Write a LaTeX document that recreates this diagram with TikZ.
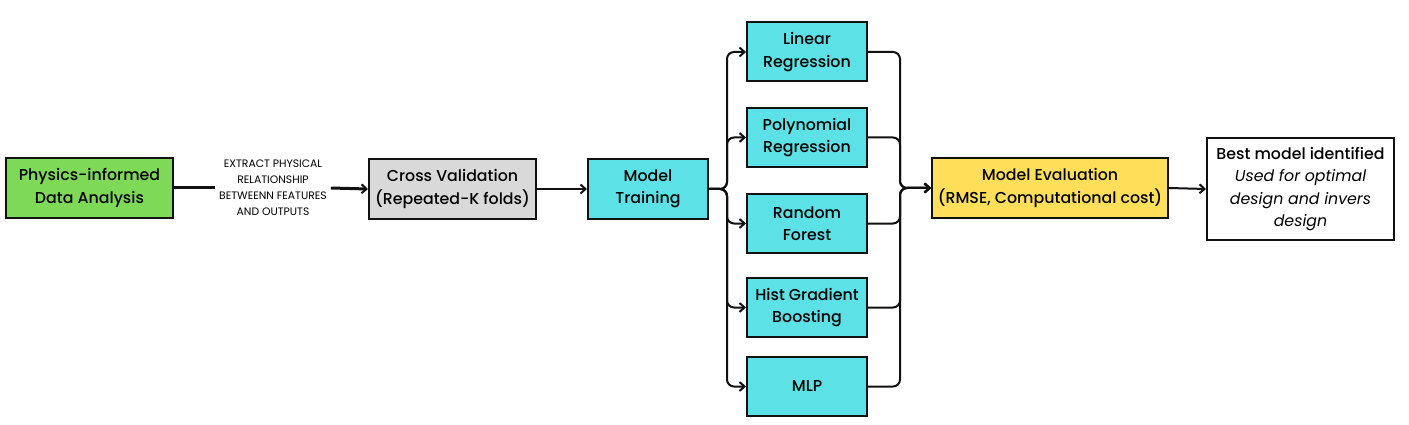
\documentclass[tikz,border=0pt]{standalone}
\usepackage{fontspec}
\setmainfont{Poppins}[BoldFont={Poppins Medium}]
\usetikzlibrary{arrows.meta,positioning,calc}
\definecolor{Ink}{HTML}{111111}
\definecolor{GreenBox}{HTML}{7ED957}
\definecolor{GreyBox}{HTML}{D9D9D9}
\definecolor{CyanBox}{HTML}{5CE1E6}
\definecolor{YellowBox}{HTML}{FFDE59}
\tikzset{
  box/.style={draw=Ink,line width=2pt,inner sep=0pt,align=center,
    font=\bfseries\fontsize{15.8}{22.5}\selectfont,minimum height=60pt},
  modelbox/.style={box,fill=CyanBox,minimum width=120pt,minimum height=59pt},
  link/.style={Ink,line width=2pt,-{Straight Barb[length=5pt,width=9pt,line width=2pt]}},
  bus/.style={link,rounded corners=7pt},
}
\newcommand{\ModelBox}[3]{%
  \node[modelbox] (#1) at (807,#2) {#3};%
}

\begin{document}
\begin{tikzpicture}[x=1pt,y=-1pt]
\useasboundingbox (0,0) rectangle (1409,425);
\node[box,fill=GreenBox,minimum width=167pt] (phys) at (89.5,188) {Physics-informed\\Data Analysis};
\node[align=center,inner sep=4pt,font=\fontsize{10.8}{16}\selectfont] (rel) at (273,188)
  {EXTRACT PHYSICAL\\RELATIONSHIP\\BETWEENN FEATURES\\AND OUTPUTS};
\node[box,fill=GreyBox,minimum width=167pt] (cv) at (452.5,189) {Cross Validation\\(Repeated-K folds)};
\node[box,fill=CyanBox,minimum width=120pt] (train) at (648,189) {Model\\Training};
\ModelBox{lin}{52}{Linear\\Regression}
\ModelBox{poly}{137.5}{Polynomial\\Regression}
\ModelBox{rf}{223.5}{Random\\Forest}
\ModelBox{hgb}{307.5}{Hist Gradient\\Boosting}
\ModelBox{mlp}{386.5}{MLP}
\node[box,fill=YellowBox,minimum width=236pt] (eval) at (1050,188) {Model Evaluation\\(RMSE, Computational cost)};
\node[box,fill=white,minimum width=187pt,minimum height=102pt] (best) at (1300.5,189)
  {Best model identified\\\mdseries\itshape Used for optimal\\\mdseries\itshape design and invers\\\mdseries\itshape design};
\coordinate (split) at (727,189);
\coordinate (merge) at (900,188);

% main chain
\draw[Ink,line width=3pt] (phys.east) -- (rel.west);
\draw[link,line width=3pt] (rel.east) -- (cv.west);
\draw[link] (cv.east) -- (train.west);
\draw[link] (eval.east) -- (best.west);
% fan out / fan in
\foreach \m in {lin,poly,rf,hgb,mlp} {
  \draw[bus] (train.east) -- (split) |- (\m.west);
  \draw[bus] (\m.east) -| (merge) -- (eval.west);
}
\end{tikzpicture}
\end{document}
